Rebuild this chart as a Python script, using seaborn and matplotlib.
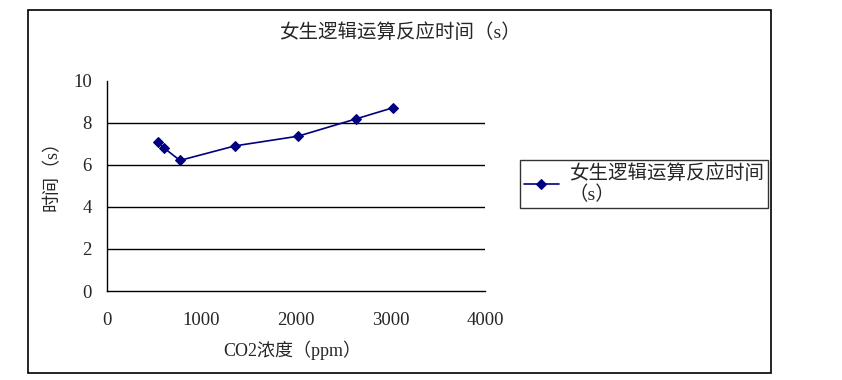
import numpy as np
import pandas as pd
import seaborn as sns
import matplotlib.pyplot as plt
from matplotlib.patches import Rectangle

sns.set_style("white")
plt.rcParams['font.family'] = ['Liberation Serif', 'Noto Sans CJK SC', 'DejaVu Sans']

# dados
co2_ppm = [536, 606, 772, 1354, 2021, 2632, 3023]
tempo_s = [7.08, 6.79, 6.21, 6.90, 7.36, 8.18, 8.71]
serie = "女生逻辑运算反应时间（s）"
x_ticks = [0, 1000, 2000, 3000, 4000]
y_ticks = [0, 2, 4, 6, 8, 10]

df = pd.DataFrame({"CO2": co2_ppm, "tempo": tempo_s})

W, H = 842, 380
fig = plt.figure(figsize=(W / 100, H / 100), dpi=100)
ax = fig.add_axes([107 / W, 1 - 291 / H, (485 - 107) / W, (291 - 80.7) / H])

sns.lineplot(data=df, x="CO2", y="tempo", ax=ax, color="#000080", marker="D",
             markersize=5.5, markeredgecolor="#000080", linewidth=1.2,
             label="女生逻辑运算反应时间\n（s）")

ax.set_xlim(0, 4000)
ax.set_ylim(0, 10)
ax.set_xticks(x_ticks)
ax.set_yticks(y_ticks)
ax.tick_params(axis="x", direction="in", length=5, width=1, color="black",
               labelsize=13.5, pad=15)
ax.tick_params(axis="y", direction="in", length=5, width=1, color="black",
               labelsize=13.5, pad=11)

# linhas de grade so em 2..8
for y in y_ticks[1:-1]:
    ax.axhline(y, color="black", lw=1, zorder=1)

for s in ["top", "right"]:
    ax.spines[s].set_visible(False)
for s in ["left", "bottom"]:
    ax.spines[s].set_color("black")
    ax.spines[s].set_linewidth(1)

ax.set_xlabel("CO2浓度（ppm）", fontsize=13)
ax.set_ylabel("时间（s）", fontsize=13)
ax.xaxis.set_label_coords(0.49, -0.235)
ax.yaxis.set_label_coords(-0.122, 0.57)

fig.text(400 / W, 1 - 33 / H, serie, ha="center", va="center", fontsize=14)

leg = ax.legend(loc="center left", bbox_to_anchor=(520 / W, 1 - 184 / H),
                bbox_transform=fig.transFigure, frameon=True, fancybox=False,
                fontsize=14, handlelength=1.8, handletextpad=0.5,
                borderpad=0.2, borderaxespad=0)
leg.get_frame().set_edgecolor("black")
leg.get_frame().set_linewidth(1)

# moldura externa
fig.patches.append(Rectangle((28 / W, 1 - 373 / H), (771 - 28) / W, (373 - 10) / H,
                             transform=fig.transFigure, fill=False,
                             edgecolor="black", lw=1.2))

plt.savefig("out.png", dpi=100)
plt.close()
